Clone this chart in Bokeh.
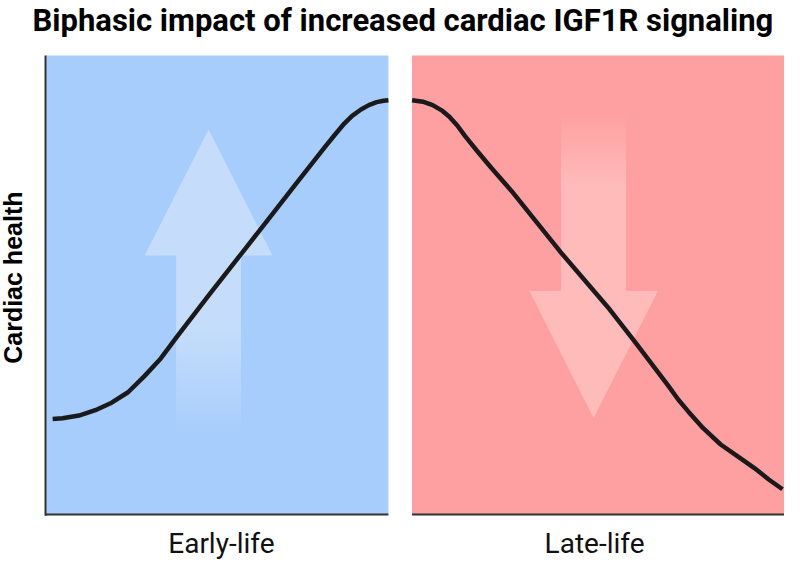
import numpy as np
from bokeh.plotting import figure
from bokeh.models import Range1d, ColumnDataSource
from bokeh.core.properties import value
from bokeh.embed import file_html
from bokeh.resources import INLINE

# ---------------- data ----------------
title_text = "Biphasic impact of increased cardiac IGF1R signaling"
y_label = "Cardiac health"
stages = ["Early-life", "Late-life"]
stage_label_x = [23.8, 74.3]

# panel extents along the (arbitrary) life axis; health runs 0..100
panel_x0 = [0.0, 49.6]
panel_x1 = [46.4, 100.0]
panel_colors = ["#a7cdfc", "#fea0a1"]
arrow_colors = ["#c5ddfb", "#ffbaba"]

# cardiac health curve, early life (rising) and late life (falling)
early_x = [0.97, 2.3, 4.52, 6.74, 8.95, 11.17, 13.39, 15.6, 17.82, 22.21, 26.73,
           31.12, 33.78, 37.77, 39.1, 40.43, 41.49, 42.69, 43.75, 44.81, 45.74, 46.4]
early_y = [20.83, 20.97, 21.55, 22.73, 24.36, 26.63, 30.15, 34.0, 38.8, 48.01, 57.29,
           66.31, 71.82, 79.98, 82.63, 85.17, 86.86, 88.24, 89.19, 89.83, 90.15, 90.25]
late_x = [49.6, 51.06, 52.39, 53.72, 54.65, 55.72, 56.78, 58.38, 60.37, 63.03, 69.68,
          76.33, 79.92, 84.31, 85.64, 86.97, 88.96, 91.36, 93.62, 95.88, 97.87, 99.73]
late_y = [90.25, 89.94, 89.19, 87.92, 86.65, 84.75, 82.42, 79.24, 75.42, 70.55, 57.2,
          44.7, 37.29, 27.97, 25.0, 22.46, 18.86, 15.25, 12.71, 10.17, 7.63, 5.51]

# direction arrows: centre x, tip y, head-base y, tail y, half widths, fade share
arrow_cx = [22.07, 74.17]
arrow_tip = [83.9, 21.0]
arrow_base = [56.4, 48.7]
arrow_tail = [17.2, 87.3]
arrow_head_half = [8.65, 8.7]
arrow_shaft_half = [4.39, 4.39]
arrow_fade = [0.6, 0.4]

# text anchors in the same units
title_pos = (-1.76, 107.6)
ylabel_pos = (-4.45, 51.6)
stage_label_y = -6.3

# visible window in data units (whole canvas)
x_view = (-6.09, 100.0)
y_view = (-10.02, 111.98)

# ---------------- figure ----------------
p = figure(width=784, height=560,
           x_range=Range1d(*x_view), y_range=Range1d(*y_view),
           output_backend="svg", toolbar_location=None,
           min_border_left=0, min_border_right=0,
           min_border_top=0, min_border_bottom=0)
p.axis.visible = False
p.xgrid.grid_line_color = None
p.ygrid.grid_line_color = None
p.outline_line_color = None
p.background_fill_color = "white"
p.border_fill_color = "white"

# panels
p.quad(left=panel_x0, right=panel_x1, bottom=0, top=100,
       fill_color=panel_colors, line_color=None)


def hex_to_rgb(h):
    h = h.lstrip("#")
    return np.array([int(h[i:i + 2], 16) for i in (0, 2, 4)], dtype=float)


def rgb_to_hex(c):
    c = np.clip(np.round(c), 0, 255).astype(int)
    return "#%02x%02x%02x" % tuple(c)


# arrows: heads
head_xs, head_ys = [], []
for cx, tip, base, hh in zip(arrow_cx, arrow_tip, arrow_base, arrow_head_half):
    head_xs.append([cx - hh, cx + hh, cx])
    head_ys.append([base, base, tip])
p.patches(xs=head_xs, ys=head_ys, fill_color=arrow_colors, line_color=None)

# arrows: shafts, solid near the head and fading into the panel towards the tail
N = 60
sl, sr, sb, st, sc = [], [], [], [], []
for cx, base, tail, sh, fade, col, pcol in zip(arrow_cx, arrow_base, arrow_tail,
                                               arrow_shaft_half, arrow_fade,
                                               arrow_colors, panel_colors):
    length = base - tail
    ext = 0.4 if length > 0 else -0.4
    c_arrow, c_panel = hex_to_rgb(col), hex_to_rgb(pcol)
    y_solid = tail + fade * length
    sl.append(cx - sh); sr.append(cx + sh)
    sb.append(min(y_solid, base + ext)); st.append(max(y_solid, base + ext))
    sc.append(col)
    for j in range(N):
        s0 = j / N * fade
        s1 = min((j + 1.6) / N * fade, fade + 0.01)
        a = (j + 0.5) / N
        y0 = tail + s0 * length
        y1 = tail + s1 * length
        sl.append(cx - sh); sr.append(cx + sh)
        sb.append(min(y0, y1)); st.append(max(y0, y1))
        sc.append(rgb_to_hex(c_panel * (1 - a) + c_arrow * a))
shaft_src = ColumnDataSource(dict(left=sl, right=sr, bottom=sb, top=st, color=sc))
p.quad(left="left", right="right", bottom="bottom", top="top",
       fill_color="color", line_color=None, source=shaft_src)

# curves
for xs, ys in ((early_x, early_y), (late_x, late_y)):
    p.line(xs, ys, line_width=4.5, line_color="#1a1a1a", line_join="round")

# axis lines: left one along the early-life panel, bottom one per panel
p.segment(x0=[0.0], y0=[-0.25], x1=[0.0], y1=[100.0],
          line_width=2, line_color="#333333")
p.segment(x0=panel_x0, y0=[0, 0], x1=panel_x1, y1=[0, 0],
          line_width=2, line_color="#333333")

# title
p.text(x=[title_pos[0]], y=[title_pos[1]], text=[title_text],
       text_font=value("Roboto"), text_font_style="bold",
       text_font_size="31px", text_color="#000000",
       text_align="left", text_baseline="alphabetic")

# y axis label
p.text(x=[ylabel_pos[0]], y=[ylabel_pos[1]], text=[y_label], angle=np.pi / 2,
       text_font=value("Liberation Sans"), text_font_style="bold",
       text_font_size="25px", text_color="#000000",
       text_align="center", text_baseline="alphabetic")

# stage labels
p.text(x=stage_label_x, y=[stage_label_y] * len(stages), text=stages,
       text_font=value("Roboto"), text_font_size="28px", text_color="#111111",
       text_align="center", text_baseline="alphabetic")

html = file_html(p, INLINE, title="Biphasic impact of increased cardiac IGF1R signaling")
open("out.html", "w").write(html)
